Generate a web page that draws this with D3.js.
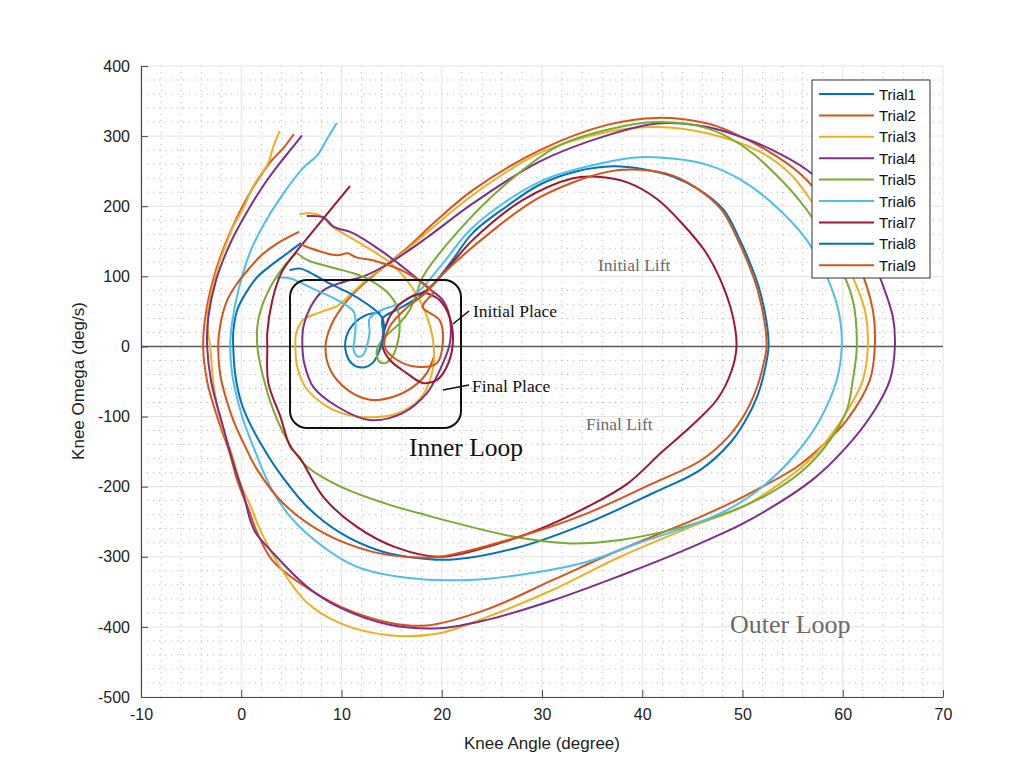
<!DOCTYPE html>
<html>
<head>
<meta charset="utf-8">
<script src="https://cdn.jsdelivr.net/npm/d3@7"></script>
<style>
  body { margin: 0; background: #fff; }
  svg { display: block; }
</style>
</head>
<body>
<svg id="chart" width="1032" height="778"></svg>
<script>
// Knee phase portrait: angle (degree) vs angular velocity (deg/s), nine trials.
const trialNames = ["Trial1", "Trial2", "Trial3", "Trial4", "Trial5", "Trial6", "Trial7", "Trial8", "Trial9"];
const trialColors = ["#0072BD", "#D95319", "#EDB120", "#7E2F8E", "#77AC30", "#4DBEEE", "#A2142F", "#0072BD", "#D95319"];

// [knee angle, knee omega]
const trial1 = [[5.9,147],[4.6,133],[3.0,116],[1.6,99],[0.4,75],[-0.4,52],[-0.8,20],[-0.8,0],[-0.6,-40],[0.0,-80],[0.7,-105],[2.0,-140],[3.6,-176],[6.6,-229],[9.9,-266],[13.5,-290],[16.5,-300],[21.1,-304],[27.8,-286],[34.5,-252],[41.1,-209],[45.8,-176],[48.8,-137],[50.4,-103],[51.5,-70],[52.2,-35],[52.6,0],[52.4,35],[51.7,81],[51.0,110],[49.8,150],[48.1,195],[45.5,225],[43.1,242],[40.0,253],[37.1,257],[33.5,250],[29.8,231],[26.5,200],[23.1,162],[21.0,122],[19.1,88],[17.2,66],[15.5,52],[14.1,40],[14.2,15],[13.8,-5],[13.2,-22],[12.2,-30],[11.0,-24],[10.4,-5],[10.5,15],[11.2,32],[12.5,45],[13.8,48]];
const trial2 = [[5.2,302],[4.2,283],[2.9,263],[0.9,220],[-1.1,163],[-2.5,110],[-3.5,50],[-3.8,0],[-3.4,-50],[-2.3,-105],[-1.2,-150],[-0.4,-191],[0.8,-235],[1.6,-266],[3.1,-305],[5.9,-338],[9.9,-371],[14.8,-394],[18.5,-398],[24.5,-375],[31.1,-333],[37.8,-290],[45.8,-243],[50.4,-212],[55.4,-172],[58.0,-141],[60.4,-105],[62.7,-48],[63.2,0],[63.0,52],[61.4,124],[58.8,195],[55.7,247],[52.4,280],[49.0,305],[46.5,318],[41.5,326],[36.5,316],[29.8,280],[23.1,223],[19.5,180],[16.5,140],[13.5,105],[11.5,80],[10.0,55],[8.9,28],[8.4,0],[8.9,-34],[10.6,-62],[12.8,-76],[15.1,-72],[17.1,-58],[18.5,-38],[19.2,-15]];
const trial3 = [[3.8,306],[3.2,285],[2.7,262],[1.6,238],[1.1,226],[0.3,200],[-0.8,171],[-1.8,135],[-2.4,109],[-3.3,52],[-3.3,20],[-3.1,0],[-2.8,-50],[-2.0,-110],[-0.8,-160],[-0.1,-195],[1.0,-230],[1.9,-262],[3.9,-315],[6.6,-366],[9.9,-395],[14.8,-412],[19.8,-409],[24.5,-386],[31.1,-347],[37.8,-300],[45.8,-252],[50.4,-226],[56.4,-166],[58.7,-129],[60.7,-86],[62.0,-48],[62.5,0],[62.2,52],[60.7,109],[59.0,160],[57.0,205],[54.7,247],[51.7,278],[46.5,304],[41.5,313],[36.5,306],[29.8,276],[23.1,216],[16.5,138],[13.8,109],[12.5,95],[10.6,70],[9.6,58],[7.9,49],[6.2,38],[5.5,20],[5.4,0],[5.6,-30],[6.5,-60],[8.5,-85],[10.5,-97],[12.8,-101],[15.5,-96],[17.8,-75],[19.0,-40],[19.2,0],[18.7,35],[17.8,66],[16.5,95],[14.8,120],[13.8,130],[12.1,145],[8.9,173],[8.1,185],[6.9,190],[5.9,189]];
const trial4 = [[6.0,300],[5.0,282],[3.5,255],[2.0,225],[0.5,190],[-1.0,150],[-2.5,95],[-3.3,40],[-3.4,0],[-3.0,-50],[-1.9,-110],[-0.8,-166],[0.3,-215],[0.9,-248],[1.4,-265],[3.2,-295],[6.6,-343],[9.9,-373],[14.8,-397],[19.8,-402],[24.5,-390],[31.1,-362],[37.8,-327],[43.8,-293],[47.0,-273],[50.4,-250],[57.0,-190],[60.4,-143],[63.0,-95],[64.7,-48],[65.2,0],[65.0,42],[63.7,99],[62.0,160],[59.7,209],[56.4,252],[53.0,280],[50.0,298],[46.5,313],[41.5,318],[36.5,301],[29.8,264],[23.1,204],[18.5,155],[14.8,119],[12.2,100],[10.2,92],[8.2,80],[6.9,56],[6.2,28],[6.1,0],[6.3,-25],[7.2,-58],[9.6,-86],[12.8,-105],[16.1,-95],[18.5,-67],[19.8,-34],[20.8,4],[20.8,41],[20.1,66],[18.5,85],[16.5,109],[13.8,138],[11.1,162],[9.2,171],[8.2,184],[6.6,186]];
const trial5 = [[5.6,133],[6.6,123],[10.8,106],[12.5,97],[14.5,78],[15.5,58],[15.8,27],[15.5,0],[15.1,-14],[14.5,-23],[13.8,-22],[13.5,-8],[14.0,8],[14.8,20],[15.8,33],[16.8,52],[17.5,76],[18.1,99],[21.5,162],[26.5,233],[31.5,285],[36.5,309],[41.5,320],[46.5,311],[49.8,288],[53.0,250],[56.4,195],[59.4,124],[61.0,66],[61.4,0],[61.0,-48],[60.4,-91],[58.7,-134],[56.4,-172],[53.5,-203],[50.4,-226],[46.5,-247],[42.8,-262],[37.8,-276],[32.8,-281],[27.8,-273],[22.8,-257],[17.8,-238],[14.8,-226],[9.9,-200],[6.6,-172],[5.2,-148],[3.6,-105],[2.4,-55],[1.6,0],[1.7,38],[2.6,76],[4.2,113],[5.4,132]];
const trial6 = [[9.5,318],[8.6,297],[7.6,273],[6.2,255],[3.9,212],[2.2,173],[0.9,135],[-0.2,85],[-0.9,35],[-1.1,0],[-0.9,-40],[-0.3,-80],[0.2,-105],[1.4,-150],[2.9,-200],[4.9,-243],[8.2,-286],[11.5,-314],[16.5,-330],[22.8,-333],[29.5,-322],[34.5,-307],[39.5,-281],[44.5,-257],[48.5,-233],[52.0,-200],[55.4,-152],[57.7,-105],[59.4,-48],[59.9,0],[59.7,42],[58.7,90],[56.4,152],[53.0,204],[49.8,238],[46.5,259],[43.0,268],[39.8,270],[36.5,263],[29.8,235],[23.1,170],[20.2,120],[17.8,80],[16.0,62],[14.0,52],[12.8,40],[12.8,20],[12.6,4],[12.1,-13],[11.6,-14],[11.2,-4],[11.3,10],[11.4,30],[11.2,50],[9.6,66],[7.2,82],[4.9,97],[3.6,98]];
const trial7 = [[10.8,228],[8.0,179],[5.2,130],[4.0,105],[3.1,66],[2.6,20],[2.6,0],[2.7,-52],[3.9,-100],[4.9,-143],[5.9,-160],[8.2,-215],[11.5,-257],[15.5,-287],[19.8,-300],[24.5,-286],[29.5,-262],[34.5,-229],[38.5,-196],[42.0,-150],[45.0,-112],[47.5,-75],[48.9,-35],[49.4,0],[49.0,45],[47.8,95],[46.3,135],[44.0,175],[41.5,210],[38.5,234],[35.5,242],[33.1,240],[28.1,209],[23.1,152],[20.5,110],[18.5,80],[16.8,70],[15.5,56],[14.5,33],[14.1,0],[14.8,-19],[16.5,-38],[18.1,-52],[19.5,-48],[20.5,-29],[21.1,4],[20.8,41],[19.8,66],[18.5,76]];
const trial8 = [[4.9,109],[5.9,111],[6.9,105],[8.8,90],[10.8,76],[12.4,62],[13.5,50],[14.1,40],[14.2,15],[13.8,-5]];
const trial9 = [[5.7,163],[3.6,147],[2.0,130],[0.9,113],[-0.4,90],[-1.4,66],[-2.1,30],[-2.3,0],[-2.1,-40],[-1.5,-75],[-0.8,-105],[0.3,-140],[1.6,-176],[4.2,-224],[8.2,-266],[13.1,-293],[16.5,-300],[19.8,-300],[27.8,-271],[34.5,-238],[41.1,-195],[45.8,-163],[48.5,-130],[50.2,-97],[51.4,-60],[52.1,-25],[52.4,0],[52.2,35],[51.5,81],[50.8,110],[49.6,150],[47.9,195],[45.5,225],[43.0,244],[39.8,252],[36.5,249],[29.8,213],[24.8,162],[19.8,99],[18.3,75],[16.5,55],[14.8,28],[14.3,0],[15.5,-19],[17.5,-29],[19.5,-24],[20.1,4],[19.8,37],[18.1,56],[18.6,68],[19.1,76],[16.5,105],[13.1,123],[11.5,127],[10.6,133],[9.6,130],[6.9,140],[6.1,145]];

const trials = [trial1, trial2, trial3, trial4, trial5, trial6, trial7, trial8, trial9];

const xTicks = [-10, 0, 10, 20, 30, 40, 50, 60, 70];
const yTicks = [-500, -400, -300, -200, -100, 0, 100, 200, 300, 400];
const xMinorStep = 2;
const yMinorStep = 20;

const svg = d3.select("#chart");
const plotLeft = 141, plotRight = 943, plotTop = 66, plotBottom = 697;
const x = d3.scaleLinear().domain([-10, 70]).range([plotLeft, plotRight]);
const y = d3.scaleLinear().domain([-500, 400]).range([plotBottom, plotTop]);

// minor grid (dotted)
const xMinor = d3.range(-10, 70.001, xMinorStep).filter(v => !xTicks.includes(Math.round(v)));
const yMinor = d3.range(-500, 400.001, yMinorStep).filter(v => !yTicks.includes(Math.round(v)));
const grid = svg.append("g");
grid.selectAll(".xm").data(xMinor).join("line")
  .attr("x1", d => x(d)).attr("x2", d => x(d)).attr("y1", plotTop).attr("y2", plotBottom)
  .attr("stroke", "#bdbdbd").attr("stroke-width", 1).attr("stroke-dasharray", "1.2,4.8");
grid.selectAll(".ym").data(yMinor).join("line")
  .attr("x1", plotLeft).attr("x2", plotRight).attr("y1", d => y(d)).attr("y2", d => y(d))
  .attr("stroke", "#bdbdbd").attr("stroke-width", 1).attr("stroke-dasharray", "1.2,4.8");
// major grid
grid.selectAll(".xM").data(xTicks).join("line")
  .attr("x1", d => x(d)).attr("x2", d => x(d)).attr("y1", plotTop).attr("y2", plotBottom)
  .attr("stroke", "#e3e3e3").attr("stroke-width", 1);
grid.selectAll(".yM").data(yTicks).join("line")
  .attr("x1", plotLeft).attr("x2", plotRight).attr("y1", d => y(d)).attr("y2", d => y(d))
  .attr("stroke", "#e3e3e3").attr("stroke-width", 1);

// zero-velocity reference line
svg.append("line")
  .attr("x1", x(-10)).attr("x2", x(70)).attr("y1", y(0)).attr("y2", y(0))
  .attr("stroke", "#5a5a5a").attr("stroke-width", 1.4);

// trajectories
const line = d3.line().x(d => x(d[0])).y(d => y(d[1])).curve(d3.curveCatmullRom.alpha(0.5));
svg.append("g").selectAll("path").data(trials).join("path")
  .attr("d", line)
  .attr("fill", "none")
  .attr("stroke", (d, i) => trialColors[i])
  .attr("stroke-width", 2)
  .attr("stroke-linejoin", "round")
  .attr("stroke-linecap", "round");

// annotations
const serif = "'Liberation Serif', 'DejaVu Serif', serif";
svg.append("rect")
  .attr("x", 290).attr("y", 280).attr("width", 171).attr("height", 148)
  .attr("rx", 17).attr("ry", 17)
  .attr("fill", "none").attr("stroke", "#111").attr("stroke-width", 2);
svg.append("line").attr("x1", 453).attr("y1", 324).attr("x2", 469).attr("y2", 311)
  .attr("stroke", "#111").attr("stroke-width", 1.6);
svg.append("line").attr("x1", 443).attr("y1", 390).attr("x2", 469).attr("y2", 385)
  .attr("stroke", "#111").attr("stroke-width", 1.6);
svg.append("text").attr("x", 473).attr("y", 317).text("Initial Place")
  .attr("font-family", serif).attr("font-size", 17.5).attr("fill", "#111");
svg.append("text").attr("x", 472).attr("y", 392).text("Final Place")
  .attr("font-family", serif).attr("font-size", 17.5).attr("fill", "#111");
svg.append("text").attr("x", 409).attr("y", 456).text("Inner Loop")
  .attr("font-family", serif).attr("font-size", 25.5).attr("fill", "#111");
svg.append("text").attr("x", 598).attr("y", 271).text("Initial Lift")
  .attr("font-family", serif).attr("font-size", 17.5).attr("fill", "#6a6a6a");
svg.append("text").attr("x", 586).attr("y", 430).text("Final Lift")
  .attr("font-family", serif).attr("font-size", 17.5).attr("fill", "#6a6a6a");
svg.append("text").attr("x", 730).attr("y", 633).text("Outer Loop")
  .attr("font-family", serif).attr("font-size", 26).attr("fill", "#6a6a6a");

// axes
const sans = "'Liberation Sans', Arial, Helvetica, sans-serif";
const xAxis = svg.append("g").attr("transform", `translate(0,${plotBottom})`)
  .call(d3.axisBottom(x).tickValues(xTicks).tickFormat(d => String(d)).tickSizeInner(-7).tickSizeOuter(0).tickPadding(12));
const yAxis = svg.append("g").attr("transform", `translate(${plotLeft},0)`)
  .call(d3.axisLeft(y).tickValues(yTicks).tickFormat(d => String(d)).tickSizeInner(-7).tickSizeOuter(0).tickPadding(11));
[xAxis, yAxis].forEach(a => {
  a.select(".domain").attr("stroke", "#4a4a4a").attr("stroke-width", 1.2);
  a.selectAll(".tick line").attr("stroke", "#4a4a4a");
  a.selectAll(".tick text").attr("font-family", sans).attr("font-size", 16).attr("fill", "#222");
});

svg.append("text").attr("x", 542).attr("y", 749).attr("text-anchor", "middle")
  .attr("font-family", sans).attr("font-size", 17).attr("fill", "#222").text("Knee Angle (degree)");
svg.append("text").attr("transform", "translate(84,381) rotate(-90)").attr("text-anchor", "middle")
  .attr("font-family", sans).attr("font-size", 17).attr("fill", "#222").text("Knee Omega (deg/s)");

// legend
const legend = svg.append("g");
legend.append("rect").attr("x", 812).attr("y", 80).attr("width", 118).attr("height", 198)
  .attr("fill", "#fff").attr("stroke", "#333").attr("stroke-width", 1);
const rows = legend.selectAll("g.row").data(trialNames).join("g")
  .attr("transform", (d, i) => `translate(0,${94 + i * 21.4})`);
rows.append("line").attr("x1", 819).attr("x2", 874).attr("y1", 0).attr("y2", 0)
  .attr("stroke", (d, i) => trialColors[i]).attr("stroke-width", 2);
rows.append("text").attr("x", 879).attr("y", 5.5).text(d => d)
  .attr("font-family", sans).attr("font-size", 15).attr("fill", "#111");
</script>
</body>
</html>
